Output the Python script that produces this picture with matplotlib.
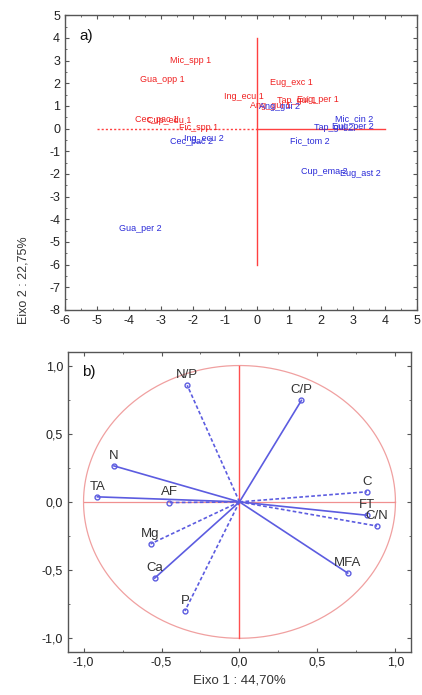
import numpy as np
import matplotlib
matplotlib.use("Agg")
import matplotlib.pyplot as plt
from matplotlib.ticker import MultipleLocator, FuncFormatter

plt.rcParams["font.family"] = ["Liberation Sans", "DejaVu Sans"]
plt.rcParams["axes.unicode_minus"] = False

# a) species scores on the first two axes (site 1 in red, site 2 in blue)
labels_1 = ["Mic_spp 1", "Gua_opp 1", "Eug_exc 1", "Ing_ecu 1", "Ang_gui 1",
            "Tap_gui 1", "Eug_per 1", "Cec_pac 1", "Cup_edu 1", "Fic_spp 1"]
x_1 = [-2.71, -3.65, 0.40, -1.04, -0.21, 0.63, 1.25, -3.81, -3.44, -2.45]
y_1 = [3.01, 2.16, 2.03, 1.40, 1.03, 1.25, 1.29, 0.40, 0.37, 0.03]

labels_2 = ["Ang_gui 2", "Mic_cin 2", "Tap_gui 2", "Eug_per 2", "Fic_tom 2",
            "Cup_ema 2", "Eug_ast 2", "Gua_per 2", "Cec_pac 2", "Ing_ecu 2"]
x_2 = [0.05, 2.45, 1.77, 2.35, 1.04, 1.39, 2.61, -4.30, -2.71, -2.29]
y_2 = [0.98, 0.44, 0.03, 0.10, -0.54, -1.91, -1.98, -4.41, -0.56, -0.44]

# b) variable loadings
var_names = ["N/P", "C/P", "N", "TA", "AF", "Mg", "Ca", "P", "C", "FT", "C/N", "MFA"]
load_x = [-0.335, 0.397, -0.805, -0.911, -0.452, -0.570, -0.544, -0.350, 0.817, 0.817, 0.882, 0.694]
load_y = [0.855, 0.744, 0.264, 0.037, -0.005, -0.308, -0.559, -0.800, 0.074, -0.098, -0.177, -0.522]
dashed = [True, False, False, False, True, True, False, True, True, False, True, False]

red = "#f02020"
blue = "#2a2ad8"
vec_blue = "#5c5ce0"
frame = "#555555"

fig = plt.figure(figsize=(4.22, 6.95), dpi=100)


def comma(v, pos):
    return ("%.1f" % v).replace(".", ",")


def style_axes(ax):
    for s in ax.spines.values():
        s.set_color(frame)
        s.set_linewidth(1.0)
    ax.tick_params(which="both", direction="in", top=True, right=True,
                   colors=frame, labelcolor="#222222", labelsize=9)
    ax.tick_params(which="major", length=3)
    ax.tick_params(which="minor", length=1.5)


# ---- panel a
ax1 = fig.add_axes([0.154, 0.554, 0.834, 0.424])
ax1.set_xlim(-6, 5)
ax1.set_ylim(-8, 5)
ax1.xaxis.set_major_locator(MultipleLocator(1))
ax1.yaxis.set_major_locator(MultipleLocator(1))
ax1.xaxis.set_minor_locator(MultipleLocator(0.5))
ax1.yaxis.set_minor_locator(MultipleLocator(0.5))
style_axes(ax1)

ax1.plot([-5, 0], [0, 0], color="#ff4040", lw=1.0, ls=(0, (1.5, 1.5)))
ax1.plot([0, 4], [0, 0], color="#ff4040", lw=1.0)
ax1.plot([0, 0], [-6, 4], color="#ff4040", lw=1.0)

for name, x, y in zip(labels_1, x_1, y_1):
    ax1.text(x, y, name, color=red, fontsize=6.5, ha="left", va="center")
for name, x, y in zip(labels_2, x_2, y_2):
    ax1.text(x, y, name, color=blue, fontsize=6.5, ha="left", va="center")

ax1.text(0.04, 0.955, "a)", transform=ax1.transAxes, fontsize=11,
         ha="left", va="top", color="#111111")

fig.text(0.055, 0.597, "Eixo 2 : 22,75%", rotation=90, fontsize=9,
         ha="center", va="center", color="#333333")

# ---- panel b
ax2 = fig.add_axes([0.161, 0.062, 0.813, 0.4317])
ax2.set_xlim(-1.1, 1.1)
ax2.set_ylim(-1.1, 1.1)
ax2.xaxis.set_major_locator(MultipleLocator(0.5))
ax2.yaxis.set_major_locator(MultipleLocator(0.5))
ax2.xaxis.set_minor_locator(MultipleLocator(0.25))
ax2.yaxis.set_minor_locator(MultipleLocator(0.25))
ax2.xaxis.set_major_formatter(FuncFormatter(comma))
ax2.yaxis.set_major_formatter(FuncFormatter(comma))
style_axes(ax2)

t = np.linspace(0, 2 * np.pi, 400)
ax2.plot(np.cos(t), np.sin(t), color="#f0a0a0", lw=0.9)
ax2.plot([-1, 1], [0, 0], color="#f09090", lw=0.9)
ax2.plot([0, 0], [-1, 1], color="#ff5050", lw=1.0)

for name, x, y, d in zip(var_names, load_x, load_y, dashed):
    ls = (0, (2.2, 1.4)) if d else "-"
    ax2.plot([0, x], [0, y], color=vec_blue, lw=1.2, ls=ls)
    ax2.plot(x, y, marker="o", ms=3.5, mfc="none", mec=vec_blue, mew=1.0)
    ax2.annotate(name, (x, y), xytext=(0, 3), textcoords="offset points",
                 ha="center", va="bottom", fontsize=9.5, color="#333333")

ax2.text(0.04, 0.955, "b)", transform=ax2.transAxes, fontsize=11,
         ha="left", va="top", color="#111111")
ax2.set_xlabel("Eixo 1 : 44,70%", fontsize=9.5, color="#333333", labelpad=4)

fig.savefig("out.png", dpi=100)
